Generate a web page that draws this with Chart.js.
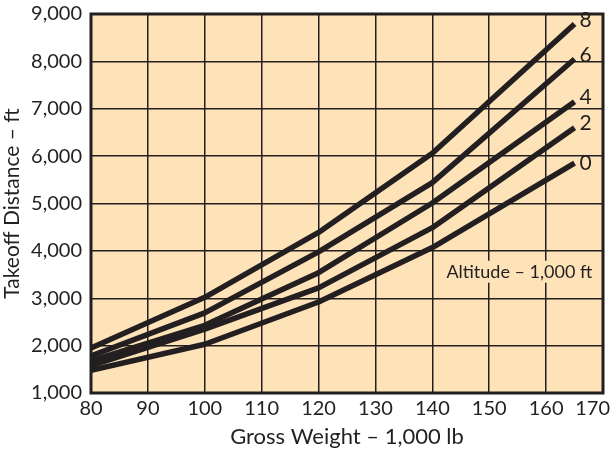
<!DOCTYPE html>
<html>
<head>
<meta charset="utf-8">
<script src="https://cdn.jsdelivr.net/npm/chart.js@4.4.0/dist/chart.umd.min.js"></script>
<style>
  html, body { margin: 0; padding: 0; background: #fff; }
  #wrap { width: 614px; height: 453px; }
</style>
</head>
<body>
<div id="wrap"><canvas id="chart" width="614" height="453"></canvas></div>
<script>
// Gross weight (1,000 lb) where the curves were read
var weights = [80, 100, 120, 140, 165];

// Takeoff distance (ft) per altitude
var alt0 = [1480, 2030, 2920, 4070, 5850];
var alt2 = [1580, 2350, 3220, 4490, 6600];
var alt4 = [1680, 2430, 3540, 5010, 7150];
var alt6 = [1780, 2690, 3980, 5440, 8050];
var alt8 = [1950, 3020, 4390, 6060, 8790];

var altNames = ['0', '2', '4', '6', '8'];
var altSeries = [alt0, alt2, alt4, alt6, alt8];

var xTicks = [80, 90, 100, 110, 120, 130, 140, 150, 160, 170];
var yTicks = [1000, 2000, 3000, 4000, 5000, 6000, 7000, 8000, 9000];

var noteText = 'Altitude \u2013 1,000 ft';
var notePos = [155.3, 3560];

var ink = '#231f20';
var font = 'Lato, "Open Sans", sans-serif';
var lastX = xTicks[xTicks.length - 1];

var datasets = altSeries.map(function (s, i) {
  return {
    label: altNames[i],
    data: weights.map(function (w, j) { return { x: w, y: s[j] }; }),
    borderColor: ink,
    borderWidth: 5.5,
    borderCapStyle: 'butt',
    borderJoinStyle: 'round',
    pointRadius: 0,
    tension: 0,
    fill: false
  };
});

// peach background behind the plot
var areaFill = {
  id: 'areaFill',
  beforeDraw: function (chart) {
    var a = chart.chartArea, ctx = chart.ctx;
    ctx.save();
    ctx.fillStyle = '#fee3b9';
    ctx.fillRect(a.left, a.top, a.right - a.left, a.bottom - a.top);
    ctx.restore();
  },
  beforeDatasetsDraw: function (chart) {
    // box for the altitude note, it hides the grid
    var ctx = chart.ctx;
    var xs = chart.scales.x, ys = chart.scales.y;
    var cx = xs.getPixelForValue(notePos[0]);
    var cy = ys.getPixelForValue(notePos[1]);
    ctx.save();
    ctx.font = '18px ' + font;
    var w = ctx.measureText(noteText).width;
    ctx.fillStyle = '#fee3b9';
    ctx.fillRect(cx - w / 2 - 3, cy - 11, w + 6, 22);
    ctx.fillStyle = ink;
    ctx.textAlign = 'center';
    ctx.textBaseline = 'middle';
    ctx.fillText(noteText, cx, cy);
    ctx.restore();
  },
  afterDatasetsDraw: function (chart) {
    var a = chart.chartArea, ctx = chart.ctx;
    var xs = chart.scales.x, ys = chart.scales.y;
    ctx.save();
    // frame
    ctx.strokeStyle = ink;
    ctx.lineWidth = 3;
    ctx.strokeRect(a.left, a.top, a.right - a.left, a.bottom - a.top);
    // altitude labels at the curve ends
    ctx.font = '21px ' + font;
    ctx.fillStyle = ink;
    ctx.textAlign = 'left';
    ctx.textBaseline = 'middle';
    altSeries.forEach(function (s, i) {
      var n = s.length - 1;
      var px = xs.getPixelForValue(weights[n]);
      var py = ys.getPixelForValue(s[n]);
      ctx.fillText(altNames[i], px + 5, i == 0 ? py : py - 4);
    });
    // last x tick label, pulled in so it fits the canvas
    ctx.font = '20px ' + font;
    ctx.textAlign = 'right';
    var lw = ctx.measureText(String(lastX)).width;
    var rx = Math.min(xs.getPixelForValue(lastX) + lw / 2, chart.width - 4);
    ctx.fillText(String(lastX), rx, xs.top + 4 + 12);
    ctx.restore();
  }
};

var ctx = document.getElementById('chart').getContext('2d');
var chart = new Chart(ctx, {
  type: 'line',
  data: { datasets: datasets },
  options: {
    responsive: false,
    animation: false,
    layout: { padding: { left: 0, right: 11, top: 14, bottom: 0 } },
    plugins: {
      legend: { display: false },
      tooltip: { enabled: false }
    },
    scales: {
      x: {
        type: 'linear',
        min: 80,
        max: 170,
        afterBuildTicks: function (scale) {
          scale.ticks = xTicks.map(function (v) { return { value: v }; });
        },
        afterFit: function (scale) {
          scale.height = 60;
          scale.paddingLeft = 0;
          scale.paddingRight = 0;
        },
        grid: { color: ink, lineWidth: 1.5, drawTicks: false },
        border: { display: false },
        ticks: {
          color: ink,
          padding: 4,
          maxRotation: 0,
          font: { family: font, size: 20 },
          callback: function (v) { return v == lastX ? '' : String(v); }
        },
        title: {
          display: true,
          text: 'Gross Weight \u2013 1,000 lb',
          color: ink,
          padding: { top: 0, bottom: 3 },
          font: { family: font, size: 22 }
        }
      },
      y: {
        type: 'linear',
        min: 1000,
        max: 9000,
        afterBuildTicks: function (scale) {
          scale.ticks = yTicks.map(function (v) { return { value: v }; });
        },
        afterFit: function (scale) {
          scale.width = 91;
          scale.paddingTop = 0;
          scale.paddingBottom = 0;
        },
        grid: { color: ink, lineWidth: 1.5, drawTicks: false },
        border: { display: false },
        ticks: {
          color: ink,
          padding: 9,
          font: { family: font, size: 20 },
          callback: function (v) { return v.toLocaleString('en-US'); }
        },
        title: {
          display: true,
          text: 'Takeoff Distance \u2013 ft',
          color: ink,
          padding: { top: 0, bottom: 0 },
          font: { family: font, size: 21 }
        }
      }
    }
  },
  plugins: [areaFill]
});
</script>
</body>
</html>
